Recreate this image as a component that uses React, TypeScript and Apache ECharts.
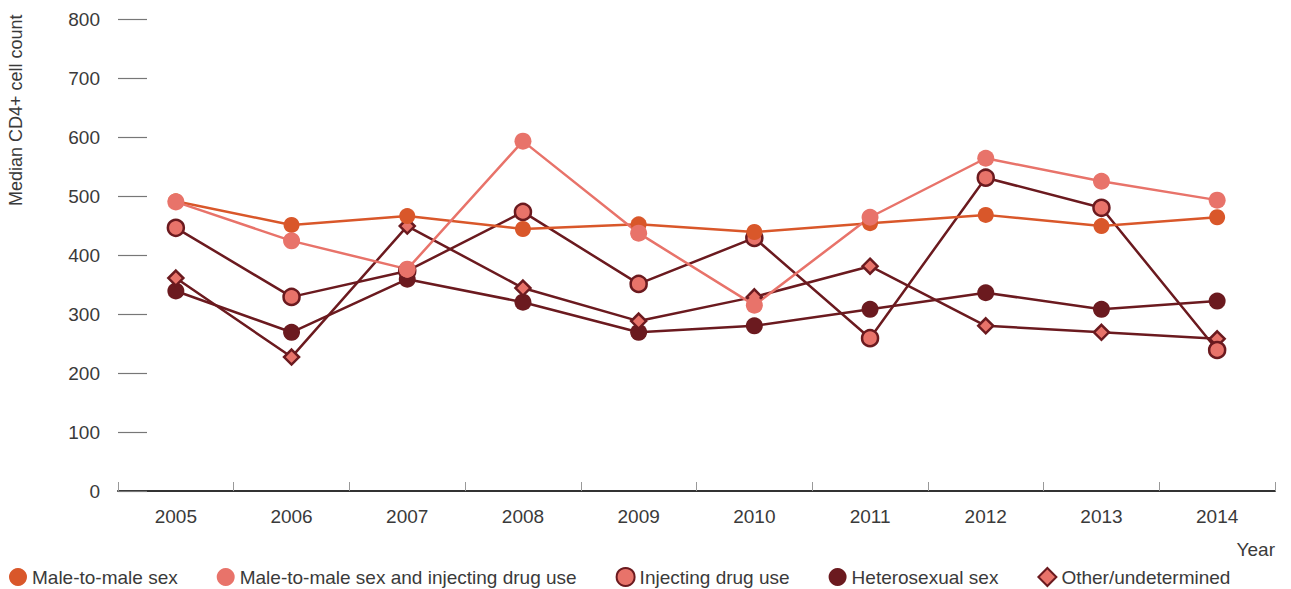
import React, { useEffect, useRef } from "react";
import * as echarts from "echarts";

const years = ["2005", "2006", "2007", "2008", "2009", "2010", "2011", "2012", "2013", "2014"];
const maleToMale = [491, 451, 466, 444, 452, 439, 454, 468, 449, 464];
const maleToMaleIDU = [490, 424, 376, 593, 437, 315, 464, 564, 525, 493];
const injectingDrugUse = [446, 329, 373, 473, 351, 429, 259, 531, 480, 239];
const heterosexual = [339, 269, 359, 320, 269, 280, 308, 336, 308, 322];
const otherUndetermined = [361, 227, 449, 344, 288, 329, 381, 280, 269, 258];

const ORANGE = "#D9572A";
const SALMON = "#E8736A";
const DARK = "#6B1A1F";
const FONT = "Liberation Sans, Arial, sans-serif";
const TXT = "#3a3a3a";

export default function App() {
  const ref = useRef<HTMLDivElement>(null);
  useEffect(() => {
    const chart = echarts.init(ref.current!, null, { renderer: "svg" });
    const mk = (name: string, data: number[], symbol: string, size: number, line: string, fill: string, border: string | null) => ({
      name,
      type: "line",
      data,
      symbol,
      symbolSize: size,
      showAllSymbol: true,
      lineStyle: { color: line, width: 2.5 },
      itemStyle: border
        ? { color: fill, borderColor: border, borderWidth: 2.5, opacity: 1 }
        : { color: fill, borderWidth: 0, opacity: 1 },
      emphasis: { disabled: true },
    });
    chart.setOption({
      animation: false,
      textStyle: { fontFamily: FONT },
      grid: { left: 118, right: 16, top: 19, bottom: 98, containLabel: false },
      xAxis: {
        type: "category",
        data: years,
        boundaryGap: true,
        name: "Year",
        nameLocation: "end",
        nameGap: 0,
        nameTextStyle: { fontSize: 19, color: TXT, fontFamily: FONT, align: "right", verticalAlign: "top", padding: [49, 0, 0, 0] },
        axisLine: { lineStyle: { color: "#333", width: 2 } },
        axisTick: { show: true, inside: true, length: 9, lineStyle: { color: "#999", width: 1 } },
        axisLabel: { fontSize: 19, color: TXT, margin: 16, fontFamily: FONT },
      },
      yAxis: {
        type: "value",
        min: 0,
        max: 800,
        interval: 100,
        axisLine: { show: false },
        axisTick: { show: true, inside: true, length: 29, lineStyle: { color: "#777", width: 1.2 } },
        splitLine: { show: false },
        axisLabel: { fontSize: 19, color: TXT, margin: 18, fontFamily: FONT },
      },
      legend: {
        left: 4,
        top: 562,
        itemGap: 39,
        itemWidth: 18,
        itemHeight: 18,
        textStyle: { fontSize: 19, color: TXT, fontFamily: FONT },
        data: [
          { name: "Male-to-male sex", icon: "circle" },
          { name: "Male-to-male sex and injecting drug use", icon: "circle" },
          { name: "Injecting drug use", icon: "circle" },
          { name: "Heterosexual sex", icon: "circle" },
          { name: "Other/undetermined", icon: "diamond" },
        ],
      },
      graphic: [
        {
          type: "text",
          x: 7,
          y: 206,
          rotation: Math.PI / 2,
          style: { text: "Median CD4+ cell count", fontSize: 18, fill: TXT, fontFamily: FONT, textAlign: "left", textVerticalAlign: "top" },
        },
      ],
      series: [
        mk("Heterosexual sex", heterosexual, "circle", 17, DARK, DARK, null),
        mk("Other/undetermined", otherUndetermined, "diamond", 15, DARK, SALMON, DARK),
        mk("Injecting drug use", injectingDrugUse, "circle", 16, DARK, SALMON, DARK),
        mk("Male-to-male sex", maleToMale, "circle", 16, ORANGE, ORANGE, null),
        mk("Male-to-male sex and injecting drug use", maleToMaleIDU, "circle", 17, SALMON, SALMON, null),
      ],
    });
    return () => chart.dispose();
  }, []);
  return <div ref={ref} style={{ width: 1291, height: 589, position: "absolute", left: 0, top: 0 }} />;
}
